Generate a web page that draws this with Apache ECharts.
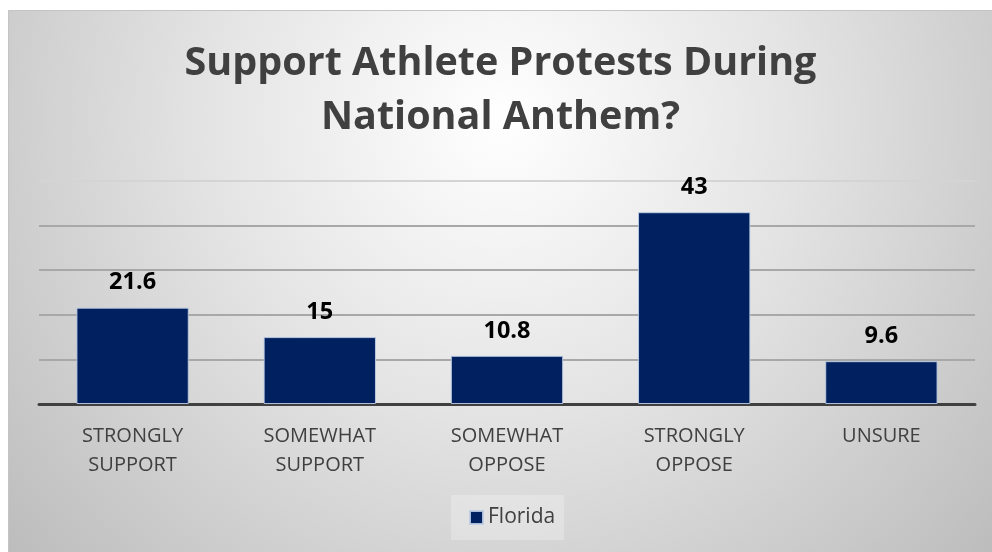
<!DOCTYPE html>
<html>
<head>
<meta charset="utf-8">
<script src="https://cdn.jsdelivr.net/npm/echarts@6/dist/echarts.min.js"></script>
<style>
  html, body { margin: 0; padding: 0; background: #ffffff; }
  #chart {
    position: absolute; left: 8px; top: 10px;
    width: 984px; height: 542px;
    box-sizing: border-box;
    border-top: 1px solid #c4c4c4;
    border-left: 1px solid #c4c4c4;
  }
</style>
</head>
<body>
<div id="chart"></div>
<script>
// Survey responses (percent), Florida
const categories = ['STRONGLY\nSUPPORT', 'SOMEWHAT\nSUPPORT', 'SOMEWHAT\nOPPOSE', 'STRONGLY\nOPPOSE', 'UNSURE'];
const floridaValues = [21.6, 15, 10.8, 43, 9.6];
const seriesName = 'Florida';
const titleText = 'Support Athlete Protests During\nNational Anthem?';

const chart = echarts.init(document.getElementById('chart'), null, { renderer: 'canvas' });

chart.setOption({
  animation: false,
  backgroundColor: {
    type: 'radial', x: 0.5, y: 0.2, r: 1.2,
    colorStops: [
      { offset: 0, color: '#ffffff' },
      { offset: 0.45, color: '#e4e4e4' },
      { offset: 1, color: '#bdbdbd' }
    ]
  },
  title: {
    text: titleText,
    left: 'center',
    top: 21,
    padding: [5, 0, 5, 12],
    textStyle: {
      fontFamily: 'Open Sans',
      fontWeight: 'bold',
      fontSize: 39.5,
      lineHeight: 54,
      color: '#404040'
    }
  },
  legend: {
    data: [seriesName],
    left: 442,
    top: 484,
    icon: 'rect',
    itemWidth: 13,
    itemHeight: 13,
    itemGap: 6,
    padding: [12, 9, 12, 18],
    backgroundColor: 'rgba(255,255,255,0.25)',
    textStyle: { fontFamily: 'Open Sans', fontSize: 21, color: '#404040' }
  },
  grid: { left: 30, right: 17, top: 170, bottom: 148, containLabel: false },
  xAxis: {
    type: 'category',
    data: categories,
    axisLine: { lineStyle: { color: '#404040', width: 3 } },
    axisTick: { show: false },
    axisLabel: {
      interval: 0,
      margin: 18,
      fontFamily: 'Open Sans',
      fontSize: 20,
      lineHeight: 29,
      color: '#404040'
    }
  },
  yAxis: {
    type: 'value',
    min: 0, max: 50, interval: 10,
    axisLabel: { show: false },
    axisLine: { show: false },
    axisTick: { show: false },
    splitLine: {
      lineStyle: {
        color: ['#a8a8a8', '#a8a8a8', '#a8a8a8', '#a8a8a8', '#a8a8a8', '#d4d4d4'],
        width: 2
      }
    }
  },
  series: [{
    name: seriesName,
    type: 'bar',
    data: floridaValues,
    barWidth: '60%',
    itemStyle: { color: '#002060', borderColor: 'rgba(190,205,230,0.9)', borderWidth: 1 },
    label: {
      show: true,
      position: 'top',
      distance: 13,
      fontFamily: 'Open Sans',
      fontWeight: 'bold',
      fontSize: 23.5,
      color: '#000000'
    }
  }]
});
</script>
</body>
</html>
